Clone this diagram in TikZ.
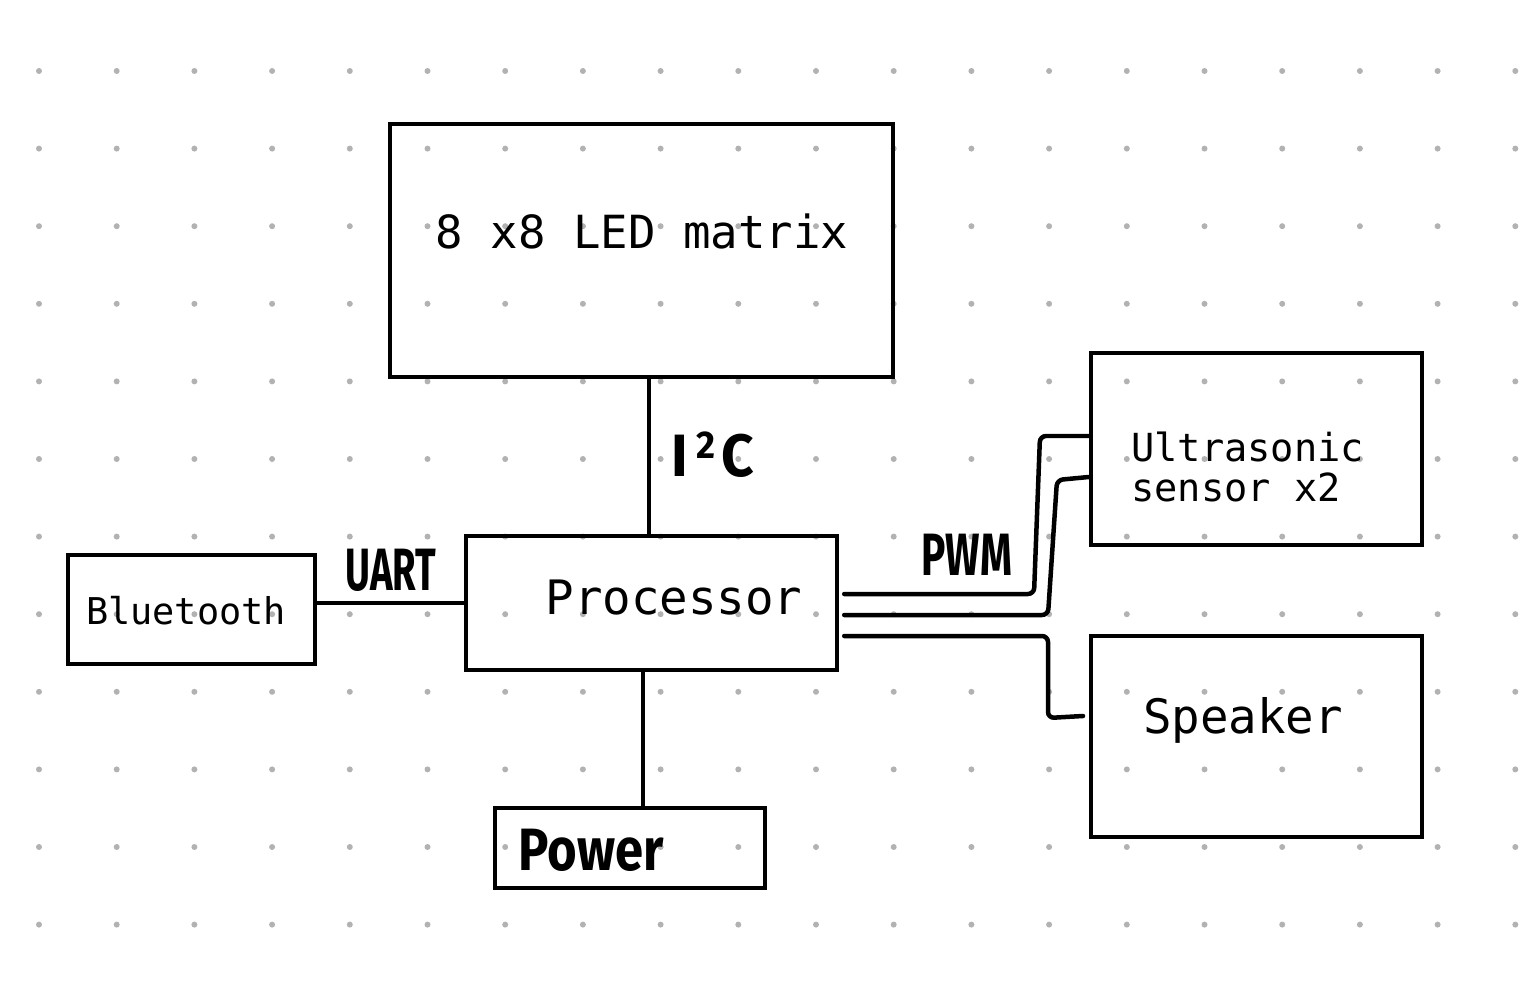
\documentclass[tikz,border=0pt]{standalone}
\usepackage{fontspec}
\usepackage{graphicx}
\setmonofont{DejaVu Sans Mono}
\newfontfamily\handfont{Fira Sans}
\usetikzlibrary{calc}

\tikzset{
  block/.style={draw=black,line width=0.09cm,inner sep=0pt,minimum width=#1},
  wire/.style={line width=0.09cm,line join=round,line cap=round,rounded corners=0.12cm},
  monotext/.style={inner sep=0pt,font=\ttfamily},
  handtext/.style={inner sep=0pt,font=\handfont\bfseries},
}

\begin{document}
\begin{tikzpicture}[x=0.02cm,y=-0.02cm]
  \useasboundingbox (0,0) rectangle (1536,1000);

  % dotted paper
  \foreach \i in {0,...,19}
    \foreach \j in {0,...,11}
      \fill[black!30] (39+77.7*\i,71+77.6*\j) circle (3);

  % blocks
  \node[block=10.06cm,minimum height=5.06cm] (led) at (641.5,250.5) {};
  \node[block=7.42cm,minimum height=2.68cm] (proc) at (651.5,603) {};
  \node[block=4.94cm,minimum height=2.18cm] (bt) at (191.5,609.5) {};
  \node[block=5.4cm,minimum height=1.6cm] (pwr) at (630,848) {};
  \node[block=6.62cm,minimum height=3.84cm] (sonar) at (1256.5,449) {};
  \node[block=6.62cm,minimum height=4.02cm] (spk) at (1256.5,736.5) {};

  % block texts
  \node[monotext,font=\ttfamily\fontsize{26}{30}\selectfont] (ledtxt) at (642,231) {8 x8 LED matrix};
  \node[monotext,font=\ttfamily\fontsize{27}{30}\selectfont] (proctxt) at (674,598) {Processor};
  \node[monotext,font=\ttfamily\fontsize{21}{26}\selectfont] (bttxt) at (186,611) {Bluetooth};
  \node[monotext,font=\ttfamily\fontsize{22}{23}\selectfont,anchor=west,align=left] (sonartxt) at (1131,467) {Ultrasonic\\sensor x2};
  \node[monotext,font=\ttfamily\fontsize{27}{30}\selectfont] (spktxt) at (1243,720) {Speaker};

  % hand-written labels
  \node[handtext,font=\handfont\bfseries\fontsize{34}{36}\selectfont] (i2c) at (713,455) {\scalebox{0.95}[1]{I\kern0.15em\raisebox{0.3em}{\fontsize{22}{22}\selectfont 2}\kern0.1em C}};
  \node[handtext,font=\handfont\bfseries\fontsize{34}{36}\selectfont] (uart) at (391,570) {\scalebox{0.64}[1]{UART}};
  \node[handtext,font=\handfont\bfseries\fontsize{34}{36}\selectfont] (pwm) at (967,555) {\scalebox{0.68}[1]{PWM}};
  \node[handtext,font=\handfont\bfseries\fontsize{34}{36}\selectfont,anchor=west] (pwrtxt) at (518,850) {\scalebox{0.85}[1]{Power}};

  % connections
  \draw[wire] (led.south -| 649,0) -- (proc.north -| 649,0);
  \draw[wire] (bt.east |- 0,603) -- (proc.west |- 0,603);
  \draw[wire] (proc.south -| 643,0) -- (pwr.north -| 643,0);

  \coordinate (p1) at ($(proc.east |- 0,594)+(5,0)$);
  \coordinate (p2) at ($(proc.east |- 0,615)+(5,0)$);
  \coordinate (p3) at ($(proc.east |- 0,636)+(5,0)$);
  \draw[wire] (p1) -- (1034,594) -- (1040,436) -- (sonar.west |- 0,436);
  \draw[wire] (p2) -- (1048,615) -- (1057,480) -- (sonar.west |- 0,477);
  \draw[wire] (p3) -- (1048,636) -- (1048,718) -- (1083,716);
\end{tikzpicture}
\end{document}
